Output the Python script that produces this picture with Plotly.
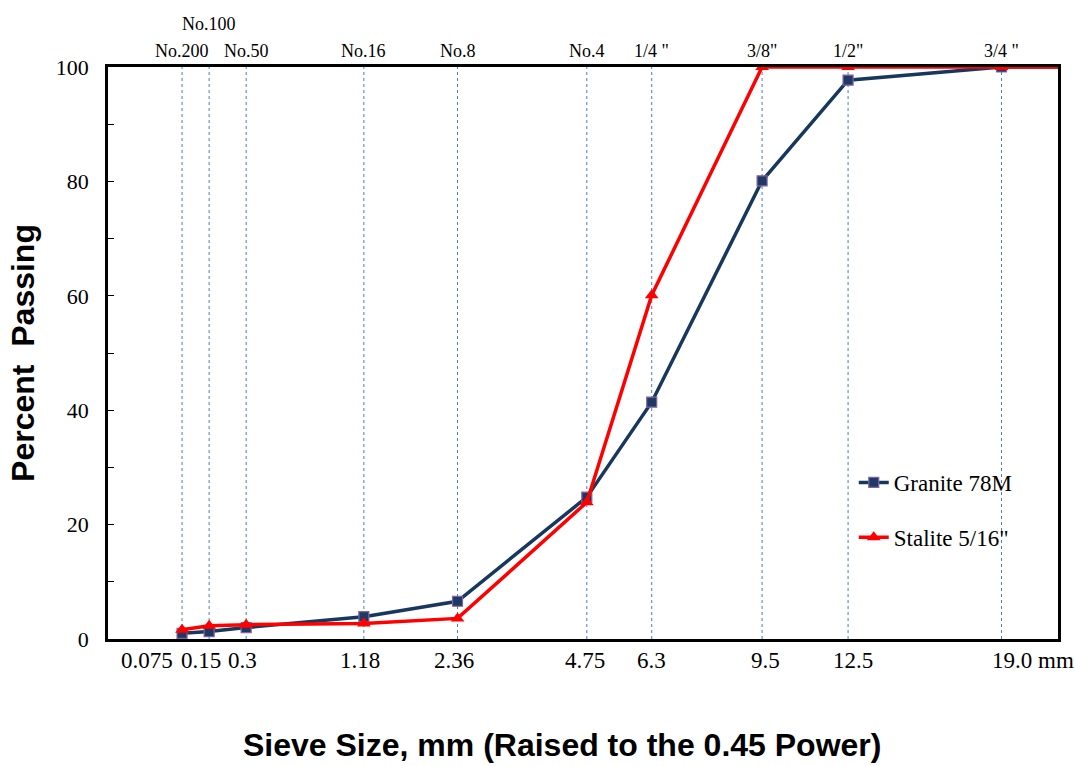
import plotly.graph_objects as go

# Sieve openings (mm) and their designations
sieve_mm = [0.075, 0.15, 0.3, 1.18, 2.36, 4.75, 6.3, 9.5, 12.5, 19.0, 25.0]
sieve_tick_text = ["0.075", "0.15", "0.3", "1.18", "2.36", "4.75", "6.3", "9.5", "12.5", "19.0 mm"]
sieve_names = ["No.200", "No.100", "No.50", "No.16", "No.8", "No.4", "1/4 \"", "3/8\"", "1/2\"", "3/4 \""]

# Percent passing for each aggregate
granite_78m = [1.0, 1.3, 2.0, 3.9, 6.6, 24.8, 41.4, 80.1, 97.7, 100.0, 100.0]
stalite_516 = [1.6, 2.3, 2.5, 2.7, 3.6, 23.9, 60.1, 100.0, 100.0, 100.0, 100.0]

POWER = 0.45
x_pow = [s ** POWER for s in sieve_mm]
grid_x = x_pow[:len(sieve_names)]

# horizontal nudges (px) so crowded size labels sit clear of each other
label_nudge = [-35, -8, -4, -4, -4, -2, 0, 3, 5, 31]

serif = "Liberation Serif, Times New Roman, serif"
sans = "Liberation Sans, Arial, sans-serif"

fig = go.Figure()

fig.add_trace(go.Scatter(
    x=x_pow, y=granite_78m, mode="lines+markers", name="Granite 78M",
    legendgroup="g", cliponaxis=True,
    line=dict(color="#17375E", width=3.5),
    marker=dict(symbol="square", size=10, color="#1F3864",
                line=dict(color="#8064A2", width=1.2)),
))
fig.add_trace(go.Scatter(
    x=x_pow, y=stalite_516, mode="lines+markers", name="Stalite 5/16\"",
    legendgroup="s", cliponaxis=True,
    line=dict(color="#FF0000", width=3.5),
    marker=dict(symbol="triangle-up", size=12, color="#FF0000"),
))

# Dotted vertical guides at each sieve
for gx in grid_x:
    fig.add_shape(type="line", xref="x", yref="paper", x0=gx, x1=gx, y0=0, y1=1,
                  line=dict(color="#4A7EBB", width=1, dash="dot"), layer="below")

# Sieve designations above the plot
for gx, name in zip(grid_x, sieve_names):
    raised = name == "No.100"
    fig.add_annotation(x=gx, y=1.0, xref="x", yref="paper", text=name,
                       showarrow=False, yanchor="bottom",
                       yshift=31 if raised else 4,
                       font=dict(family=serif, size=18, color="black"))

# Sieve sizes below the plot
for gx, txt, dx in zip(grid_x, sieve_tick_text, label_nudge):
    fig.add_annotation(x=gx, y=0.0, xref="x", yref="paper", text=txt,
                       showarrow=False, yanchor="top", xshift=dx, yshift=-7,
                       font=dict(family=serif, size=23, color="black"))

fig.add_annotation(x=0.478, y=-0.185, xref="paper", yref="paper",
                   text="<b>Sieve Size, mm (Raised to the 0.45 Power)</b>",
                   showarrow=False, xanchor="center", yanchor="middle",
                   font=dict(family=sans, size=32, color="black"))

y_ticks = list(range(0, 101, 10))
y_text = [str(v) if v % 20 == 0 else "" for v in y_ticks]

fig.update_layout(
    width=1075, height=766,
    margin=dict(l=108, r=17, t=67, b=127),
    paper_bgcolor="white", plot_bgcolor="white",
    showlegend=True,
    legend=dict(x=0.785, y=0.2255, xanchor="left", yanchor="middle",
                bgcolor="rgba(0,0,0,0)", tracegroupgap=22,
                font=dict(family=serif, size=23, color="black"),
                itemwidth=30),
    xaxis=dict(range=[0, 4.0], showticklabels=False, showgrid=False, zeroline=False,
               showline=True, linecolor="black", linewidth=2.5, mirror=True,
               ticks=""),
    yaxis=dict(range=[0, 100], tickmode="array", tickvals=y_ticks, ticktext=y_text,
               showgrid=False, zeroline=False, showline=True, linecolor="black",
               linewidth=2.5, mirror=True, ticks="inside", ticklen=6,
               tickcolor="black", ticklabelstandoff=12,
               tickfont=dict(family=serif, size=22, color="black"),
               title=dict(text="<b>Percent  Passing</b>", standoff=12,
                          font=dict(family=sans, size=32, color="black"))),
)

fig.write_html("out.html")
